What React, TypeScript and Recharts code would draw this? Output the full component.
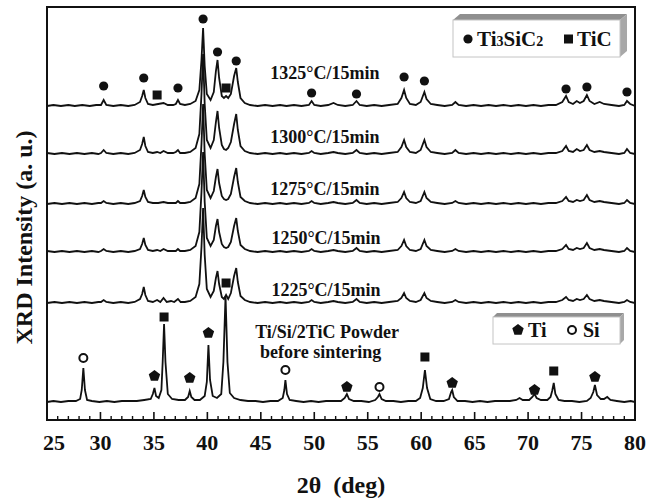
import React from "react";
import {
  ComposedChart,
  Line,
  Scatter,
  XAxis,
  YAxis,
  ReferenceLine,
  ReferenceArea,
} from "recharts";

type Pt = [number, number];

// 2θ tick labels
const angleTicks = [25, 30, 35, 40, 45, 50, 55, 60, 65, 70, 75, 80];

// vertical offsets of the stacked patterns (a.u.)
const traceOffsets = [314, 266, 216, 168, 117, 18];

// patterns: [2θ, intensity above own baseline]
const t1325: Pt[] = [
  [25, 0], [25.6, 1], [26.3, 0], [27, 1], [27.6, 0], [28.3, 1], [29, 0], [29.6, 1], [30.05, 1], [30.3, 6], [30.55, 1],
  [31.2, 0], [31.9, 1], [32.6, 0], [33.2, 1], [33.7, 4], [33.9, 10], [34.05, 16], [34.2, 8], [34.45, 2], [34.9, 1],
  [35.4, 2], [35.9, 3], [36.3, 1], [36.8, 1], [37.05, 2], [37.25, 6], [37.45, 2], [37.9, 1], [38.4, 2], [38.9, 5],
  [39.25, 16], [39.45, 46], [39.6, 78], [39.75, 40], [39.95, 12], [40.3, 6], [40.6, 14], [40.8, 35], [40.95, 46],
  [41.1, 28], [41.35, 10], [41.55, 8], [41.75, 10], [41.95, 8], [42.2, 12], [42.5, 30], [42.7, 38], [42.85, 24],
  [43.1, 8], [43.5, 3], [44, 1], [44.7, 0], [45.4, 1], [46.1, 0], [46.8, 1], [47.4, 0], [48.1, 1], [48.8, 0],
  [49.5, 1], [49.75, 5], [50, 1], [50.6, 0], [51.3, 1], [51.8, 3], [52.2, 1], [52.9, 0], [53.6, 1], [53.95, 5],
  [54.25, 1], [54.9, 0], [55.6, 1], [56.3, 0], [57, 1], [57.8, 2], [58.15, 8], [58.4, 16], [58.6, 8], [58.95, 2],
  [59.5, 1], [59.95, 4], [60.3, 14], [60.5, 7], [60.9, 2], [61.5, 1], [62.2, 0], [62.9, 1], [63.2, 4], [63.5, 1],
  [64.2, 0], [64.9, 1], [65.6, 0], [66.3, 1], [67, 0], [67.7, 1], [68.4, 0], [69.1, 1], [69.8, 0], [70.5, 1],
  [71.2, 0], [71.9, 1], [72.6, 1], [73.2, 4], [73.55, 10], [73.8, 4], [74.2, 2], [74.55, 5], [74.85, 3], [75.2, 5],
  [75.5, 11], [75.75, 5], [76.2, 2], [76.7, 4], [77.1, 2], [77.8, 1], [78.5, 0], [79, 1], [79.25, 5], [79.55, 2], [80, 0],
];

const t1300: Pt[] = [
  [25, 1], [25.7, 0], [26.4, 1], [27.1, 0], [27.8, 1], [28.5, 0], [29.2, 1], [29.8, 0], [30.05, 1], [30.3, 4], [30.55, 1],
  [31.2, 0], [31.9, 1], [32.6, 0], [33.2, 1], [33.7, 4], [33.9, 10], [34.05, 17], [34.2, 8], [34.45, 2], [34.9, 1],
  [35.3, 2], [35.6, 1], [35.9, 3], [36.3, 1], [36.8, 1], [37.05, 2], [37.25, 4], [37.45, 1], [37.9, 1], [38.4, 2],
  [38.9, 6], [39.25, 20], [39.45, 60], [39.6, 100], [39.75, 50], [39.95, 14], [40.3, 6], [40.6, 14], [40.8, 32],
  [40.95, 43], [41.1, 26], [41.35, 9], [41.55, 5], [41.75, 4], [41.95, 6], [42.2, 12], [42.5, 30], [42.7, 40],
  [42.85, 24], [43.1, 8], [43.5, 3], [44, 1], [44.7, 0], [45.4, 1], [46.1, 0], [46.8, 1], [47.4, 0], [48.1, 1],
  [48.8, 0], [49.5, 1], [49.75, 3], [50, 1], [50.6, 0], [51.3, 1], [51.8, 2], [52.2, 1], [52.9, 0], [53.6, 1],
  [53.95, 4], [54.25, 1], [54.9, 0], [55.6, 1], [56.3, 0], [57, 1], [57.8, 2], [58.15, 7], [58.4, 14], [58.6, 7],
  [58.95, 2], [59.5, 1], [59.95, 4], [60.3, 14], [60.5, 7], [60.9, 2], [61.5, 1], [62.2, 0], [62.9, 1], [63.2, 4],
  [63.5, 1], [64.2, 0], [64.9, 1], [65.6, 0], [66.3, 1], [67, 0], [67.7, 1], [68.4, 0], [69.1, 1], [69.8, 0],
  [70.5, 1], [71.2, 0], [71.9, 1], [72.6, 1], [73.2, 3], [73.55, 8], [73.8, 3], [74.2, 2], [74.55, 5], [74.85, 3],
  [75.2, 4], [75.5, 9], [75.75, 4], [76.2, 2], [76.7, 3], [77.1, 2], [77.8, 1], [78.5, 0], [79, 1], [79.25, 5],
  [79.55, 1], [80, 0],
];

const t1275: Pt[] = [
  [25, 0], [25.7, 1], [26.4, 0], [27.1, 1], [27.8, 0], [28.5, 1], [29.2, 0], [29.8, 1], [30.05, 1], [30.3, 3], [30.55, 1],
  [31.2, 0], [31.9, 1], [32.6, 0], [33.2, 1], [33.7, 3], [33.9, 8], [34.05, 14], [34.2, 7], [34.45, 2], [34.9, 1],
  [35.4, 1], [35.9, 2], [36.3, 1], [36.8, 1], [37.05, 1], [37.25, 3], [37.45, 1], [37.9, 1], [38.4, 2], [38.9, 6],
  [39.25, 20], [39.45, 60], [39.6, 100], [39.75, 50], [39.95, 14], [40.3, 6], [40.6, 13], [40.8, 27], [40.95, 35],
  [41.1, 21], [41.35, 8], [41.55, 5], [41.75, 4], [41.95, 5], [42.2, 10], [42.5, 27], [42.7, 36], [42.85, 22],
  [43.1, 7], [43.5, 3], [44, 1], [44.7, 0], [45.4, 1], [46.1, 0], [46.8, 1], [47.4, 0], [48.1, 1], [48.8, 0],
  [49.5, 1], [49.75, 3], [50, 1], [50.6, 0], [51.3, 1], [51.8, 2], [52.2, 1], [52.9, 0], [53.6, 1], [53.95, 4],
  [54.25, 1], [54.9, 0], [55.6, 1], [56.3, 0], [57, 1], [57.8, 2], [58.15, 6], [58.4, 12], [58.6, 6], [58.95, 2],
  [59.5, 1], [59.95, 3], [60.3, 12], [60.5, 6], [60.9, 2], [61.5, 1], [62.2, 0], [62.9, 1], [63.2, 3], [63.5, 1],
  [64.2, 0], [64.9, 1], [65.6, 0], [66.3, 1], [67, 0], [67.7, 1], [68.4, 0], [69.1, 1], [69.8, 0], [70.5, 1],
  [71.2, 0], [71.9, 1], [72.6, 1], [73.2, 3], [73.55, 7], [73.8, 3], [74.2, 2], [74.55, 4], [74.85, 3], [75.2, 4],
  [75.5, 9], [75.75, 4], [76.2, 2], [76.7, 3], [77.1, 2], [77.8, 1], [78.5, 0], [79, 1], [79.25, 4], [79.55, 1], [80, 0],
];

const t1250: Pt[] = [
  [25, 1], [25.7, 0], [26.4, 1], [27.1, 0], [27.8, 1], [28.5, 0], [29.2, 1], [29.8, 0], [30.05, 1], [30.3, 3], [30.55, 1],
  [31.2, 0], [31.9, 1], [32.6, 0], [33.2, 1], [33.7, 3], [33.9, 8], [34.05, 14], [34.2, 7], [34.45, 2], [34.9, 1],
  [35.3, 2], [35.6, 1], [35.9, 3], [36.3, 1], [36.8, 1], [37.05, 1], [37.25, 3], [37.45, 1], [37.9, 1], [38.4, 2],
  [38.9, 6], [39.25, 20], [39.45, 60], [39.6, 100], [39.75, 50], [39.95, 14], [40.3, 6], [40.6, 12], [40.8, 26],
  [40.95, 33], [41.1, 20], [41.35, 8], [41.55, 5], [41.75, 4], [41.95, 5], [42.2, 10], [42.5, 26], [42.7, 34],
  [42.85, 21], [43.1, 7], [43.5, 3], [44, 1], [44.7, 0], [45.4, 1], [46.1, 0], [46.8, 1], [47.4, 0], [48.1, 1],
  [48.8, 0], [49.5, 1], [49.75, 3], [50, 1], [50.6, 0], [51.3, 1], [51.8, 2], [52.2, 1], [52.9, 0], [53.6, 1],
  [53.95, 4], [54.25, 1], [54.9, 0], [55.6, 1], [56.3, 0], [57, 1], [57.8, 2], [58.15, 6], [58.4, 12], [58.6, 6],
  [58.95, 2], [59.5, 1], [59.95, 3], [60.3, 12], [60.5, 6], [60.9, 2], [61.5, 1], [62.2, 0], [62.9, 1], [63.2, 3],
  [63.5, 1], [64.2, 0], [64.9, 1], [65.6, 0], [66.3, 1], [67, 0], [67.7, 1], [68.4, 0], [69.1, 1], [69.8, 0],
  [70.5, 1], [71.2, 0], [71.9, 1], [72.6, 1], [73.2, 3], [73.55, 7], [73.8, 3], [74.2, 2], [74.55, 4], [74.85, 3],
  [75.2, 4], [75.5, 9], [75.75, 4], [76.2, 2], [76.7, 3], [77.1, 2], [77.8, 1], [78.5, 0], [79, 1], [79.25, 4],
  [79.55, 1], [80, 0],
];

const t1225: Pt[] = [
  [25, 0], [25.7, 1], [26.4, 0], [27.1, 1], [27.8, 0], [28.5, 1], [29.2, 0], [29.8, 1], [30.05, 1], [30.3, 3], [30.55, 1],
  [31.2, 0], [31.9, 1], [32.6, 0], [33.2, 1], [33.7, 4], [33.9, 9], [34.05, 16], [34.2, 8], [34.45, 2], [34.9, 1],
  [35.3, 3], [35.6, 1], [35.9, 5], [36.2, 1], [36.6, 2], [36.9, 1], [37.25, 4], [37.5, 1], [37.9, 1], [38.4, 2],
  [38.9, 6], [39.25, 19], [39.45, 56], [39.6, 95], [39.75, 48], [39.95, 14], [40.3, 6], [40.6, 12], [40.8, 25],
  [40.95, 32], [41.1, 19], [41.35, 6], [41.55, 4], [41.75, 8], [41.95, 4], [42.2, 10], [42.5, 27], [42.7, 35],
  [42.85, 21], [43.1, 7], [43.5, 3], [44, 1], [44.7, 0], [45.4, 1], [46.1, 0], [46.8, 1], [47.4, 0], [48.1, 1],
  [48.8, 0], [49.5, 1], [49.75, 3], [50, 1], [50.6, 0], [51.3, 1], [51.8, 2], [52.2, 1], [52.9, 0], [53.6, 1],
  [53.95, 4], [54.25, 1], [54.9, 0], [55.6, 1], [56.3, 0], [57, 1], [57.8, 2], [58.15, 5], [58.4, 10], [58.6, 5],
  [58.95, 2], [59.5, 1], [59.95, 3], [60.3, 10], [60.5, 5], [60.9, 2], [61.5, 1], [62.2, 0], [62.9, 1], [63.2, 3],
  [63.5, 1], [64.2, 0], [64.9, 1], [65.6, 0], [66.3, 1], [67, 0], [67.7, 1], [68.4, 0], [69.1, 1], [69.8, 0],
  [70.5, 1], [71.2, 0], [71.9, 1], [72.6, 1], [73.2, 3], [73.55, 6], [73.8, 3], [74.2, 2], [74.55, 4], [74.85, 3],
  [75.2, 4], [75.5, 8], [75.75, 4], [76.2, 2], [76.7, 3], [77.1, 2], [77.8, 1], [78.5, 0], [79, 1], [79.25, 3],
  [79.55, 1], [80, 0],
];

const tPowder: Pt[] = [
  [25, 0], [25.6, 1], [26.3, 0], [27, 1], [27.7, 1], [28.1, 3], [28.25, 12], [28.4, 34], [28.55, 12], [28.75, 2],
  [29.2, 1], [29.9, 0], [30.6, 1], [31.3, 0], [32, 1], [32.7, 1], [33.4, 1], [34.1, 2], [34.7, 3], [34.9, 8],
  [35.05, 14], [35.2, 6], [35.45, 4], [35.7, 12], [35.82, 40], [35.95, 78], [36.08, 40], [36.3, 8], [36.7, 3],
  [37.3, 2], [37.9, 2], [38.2, 5], [38.35, 11], [38.5, 5], [38.8, 2], [39.3, 2], [39.75, 6], [39.95, 20],
  [40.1, 57], [40.25, 22], [40.5, 6], [40.9, 4], [41.3, 8], [41.5, 40], [41.7, 106], [41.88, 40], [42.1, 9],
  [42.5, 4], [43.1, 2], [43.8, 1], [44.5, 1], [45.2, 0], [45.9, 1], [46.6, 1], [47.05, 4], [47.2, 12], [47.3, 22],
  [47.45, 8], [47.7, 2], [48.3, 1], [49, 0], [49.7, 1], [50.4, 0], [51.1, 1], [51.8, 1], [52.5, 1], [52.85, 4],
  [53.05, 8], [53.25, 3], [53.7, 1], [54.4, 1], [55.1, 0], [55.7, 2], [55.95, 5], [56.1, 8], [56.3, 3], [56.7, 1],
  [57.4, 1], [58.1, 0], [58.8, 1], [59.5, 1], [59.9, 4], [60.15, 14], [60.35, 32], [60.55, 14], [60.85, 3],
  [61.4, 1], [62.1, 1], [62.6, 3], [62.8, 10], [62.9, 12], [63.05, 5], [63.4, 1], [64.1, 1], [64.8, 0], [65.5, 1],
  [66.2, 0], [66.9, 1], [67.6, 1], [68.3, 1], [68.9, 2], [69.2, 4], [69.5, 2], [70.1, 2], [70.4, 5], [70.6, 8],
  [70.8, 4], [71.2, 2], [71.8, 2], [72.1, 5], [72.25, 11], [72.4, 19], [72.55, 8], [72.85, 2], [73.4, 1],
  [74.1, 1], [74.8, 0], [75.5, 1], [75.85, 4], [76.1, 10], [76.25, 17], [76.45, 7], [76.8, 3], [77.1, 3],
  [77.4, 5], [77.7, 2], [78.3, 1], [79, 0], [79.6, 1], [80, 0],
];

const traces = [t1325, t1300, t1275, t1250, t1225, tPowder];

// phase markers [2θ, height on the stacked scale]
const ti3sic2Marks: Pt[] = [
  [30.3, 334], [34.05, 342], [37.25, 332], [39.6, 401], [40.95, 368], [42.7, 359], [49.75, 327],
  [53.95, 326], [58.4, 343], [60.3, 339], [73.55, 331], [75.5, 333], [79.25, 328],
];
const ticMarks: Pt[] = [[35.3, 325], [41.75, 332], [41.75, 137], [35.95, 103], [60.35, 63], [72.4, 49]];
const tiMarks: Pt[] = [[35.05, 44], [38.35, 42], [40.1, 87], [53.05, 33], [62.9, 37], [70.6, 30], [76.25, 43]];
const siMarks: Pt[] = [[28.4, 62], [47.3, 50], [56.1, 33]];

const sampleLabels = [
  "1325°C/15min",
  "1300°C/15min",
  "1275°C/15min",
  "1250°C/15min",
  "1225°C/15min",
  "Ti/Si/2TiC Powder",
  "before sintering",
];
const labelAngles = [51.0, 51.0, 51.0, 51.1, 51.1, 51.2, 50.6];
const labelHeights = [347, 283, 231, 182, 130, 88, 68];

const FONT = "'Liberation Serif', 'Times New Roman', serif";
const INK = "#111";

const toRows = (pts: Pt[], off = 0) => pts.map(([x, y]) => ({ x, y: y + off }));

const minorTicks = Array.from({ length: 56 }, (_, i) => 25 + i).filter((v) => v % 5 !== 0);

const Dot = ({ cx, cy }: any) => <circle cx={cx} cy={cy} r={4.6} fill={INK} />;
const Square = ({ cx, cy }: any) => <rect x={cx - 4.5} y={cy - 4.5} width={9} height={9} fill={INK} />;
const Ring = ({ cx, cy }: any) => <circle cx={cx} cy={cy} r={4} fill="#fff" stroke={INK} strokeWidth={2} />;
const pentaPath = (cx: number, cy: number, r: number) =>
  [0, 1, 2, 3, 4]
    .map((i) => {
      const a = ((-90 + 72 * i) * Math.PI) / 180;
      return `${i ? "L" : "M"}${cx + r * Math.cos(a)},${cy + r * Math.sin(a)}`;
    })
    .join(" ") + "Z";
const Penta = ({ cx, cy }: any) => <path d={pentaPath(cx, cy, 6)} fill={INK} />;

const LabelText = ({ cx, cy, payload }: any) => (
  <text
    x={cx}
    y={cy}
    textAnchor="middle"
    dominantBaseline="central"
    fontFamily={FONT}
    fontWeight="bold"
    fontSize={18}
    fill={INK}
  >
    {payload?.text}
  </text>
);

const AngleTick = ({ x, y, payload }: any) => (
  <text
    x={payload.value === 25 ? x + 7 : x}
    y={y + 30}
    textAnchor="middle"
    fontFamily={FONT}
    fontWeight="bold"
    fontSize={22}
    fill={INK}
  >
    {payload.value}
  </text>
);

export default function App() {
  const labelRows = sampleLabels.map((text, i) => ({ x: labelAngles[i], y: labelHeights[i], text }));

  return (
    <div style={{ position: "absolute", left: 0, top: 0, width: 646, height: 500, background: "#fff" }}>
      <ComposedChart width={646} height={500} margin={{ top: 7, right: 11, bottom: 50, left: 0 }}>
        <XAxis
          dataKey="x"
          type="number"
          domain={[25, 80]}
          ticks={angleTicks}
          allowDataOverflow
          height={30}
          tickSize={0}
          tickMargin={0}
          tickLine={false}
          axisLine={{ stroke: INK, strokeWidth: 2 }}
          tick={<AngleTick />}
          label={{
            value: "2θ (deg)",
            content: ({ viewBox }: any) => (
              <text
                x={viewBox.x + viewBox.width / 2}
                y={viewBox.y + 73}
                textAnchor="middle"
                fontFamily={FONT}
                fontWeight="bold"
                fontSize={24}
                fill={INK}
              >
                2θ{"\u00a0\u00a0"}(deg)
              </text>
            ),
          }}
        />
        <YAxis
          type="number"
          domain={[0, 413]}
          allowDataOverflow
          width={47}
          tick={false}
          tickLine={false}
          axisLine={false}
          label={{
            value: "XRD Intensity (a. u.)",
            content: ({ viewBox }: any) => {
              const cx = viewBox.x + 24;
              const cy = viewBox.y + viewBox.height / 2 + 24;
              return (
                <text
                  x={cx}
                  y={cy}
                  transform={`rotate(-90, ${cx}, ${cy})`}
                  textAnchor="middle"
                  dominantBaseline="central"
                  fontFamily={FONT}
                  fontWeight="bold"
                  fontSize={24}
                  fill={INK}
                >
                  XRD Intensity (a. u.)
                </text>
              );
            },
          }}
        />

        <ReferenceArea
          x1={25}
          x2={80}
          y1={0}
          y2={413}
          fill="none"
          fillOpacity={0}
          stroke={INK}
          strokeWidth={2}
          ifOverflow="visible"
        />
        {minorTicks.map((v) => (
          <ReferenceLine key={`mi${v}`} segment={[{ x: v, y: 0 }, { x: v, y: 4 }]} stroke={INK} strokeWidth={1.4} />
        ))}
        {angleTicks.map((v) => (
          <ReferenceLine key={`ma${v}`} segment={[{ x: v, y: 0 }, { x: v, y: 8 }]} stroke={INK} strokeWidth={1.6} />
        ))}

        {traces.map((pts, i) => (
          <Line
            key={i}
            data={toRows(pts, traceOffsets[i])}
            dataKey="y"
            type="linear"
            stroke={INK}
            strokeWidth={1.8}
            dot={false}
            activeDot={false}
            isAnimationActive={false}
          />
        ))}

        <Scatter data={toRows(ti3sic2Marks)} dataKey="y" shape={<Dot />} isAnimationActive={false} />
        <Scatter data={toRows(ticMarks)} dataKey="y" shape={<Square />} isAnimationActive={false} />
        <Scatter data={toRows(tiMarks)} dataKey="y" shape={<Penta />} isAnimationActive={false} />
        <Scatter data={toRows(siMarks)} dataKey="y" shape={<Ring />} isAnimationActive={false} />
        <Scatter data={labelRows} dataKey="y" shape={<LabelText />} isAnimationActive={false} />
      </ComposedChart>

      <svg
        width={646}
        height={500}
        style={{ position: "absolute", left: 0, top: 0, pointerEvents: "none" }}
        fontFamily={FONT}
        fontWeight="bold"
      >
        {/* legend: Ti3SiC2 / TiC */}
        <polygon points="453,20 460,14 627,14 620,20" fill="#8f8f8f" />
        <polygon points="620,20 627,14 627,51 620,57" fill="#a8a8a8" />
        <rect x={453} y={20} width={167} height={37} fill="#fff" stroke="#c4c4c4" strokeWidth={1} />
        <circle cx={468} cy={39} r={4.6} fill={INK} />
        <text x={477} y={46} fontSize={21} fill={INK}>
          Ti<tspan fontSize={14}>3</tspan>SiC<tspan fontSize={14}>2</tspan>
        </text>
        <rect x={564} y={34.5} width={9} height={9} fill={INK} />
        <text x={577} y={46} fontSize={21} fill={INK}>
          TiC
        </text>

        {/* legend: Ti / Si */}
        <polygon points="493,317 497,313 624,313 620,317" fill="#8f8f8f" />
        <polygon points="620,317 624,313 624,340 620,344" fill="#a8a8a8" />
        <rect x={493} y={317} width={127} height={27} fill="#fff" stroke="#c4c4c4" strokeWidth={1} />
        <path d={pentaPath(518, 330, 6)} fill={INK} />
        <text x={528} y={337} fontSize={20} fill={INK}>
          Ti
        </text>
        <circle cx={572} cy={330} r={4} fill="#fff" stroke={INK} strokeWidth={2} />
        <text x={583} y={337} fontSize={20} fill={INK}>
          Si
        </text>
      </svg>
    </div>
  );
}
